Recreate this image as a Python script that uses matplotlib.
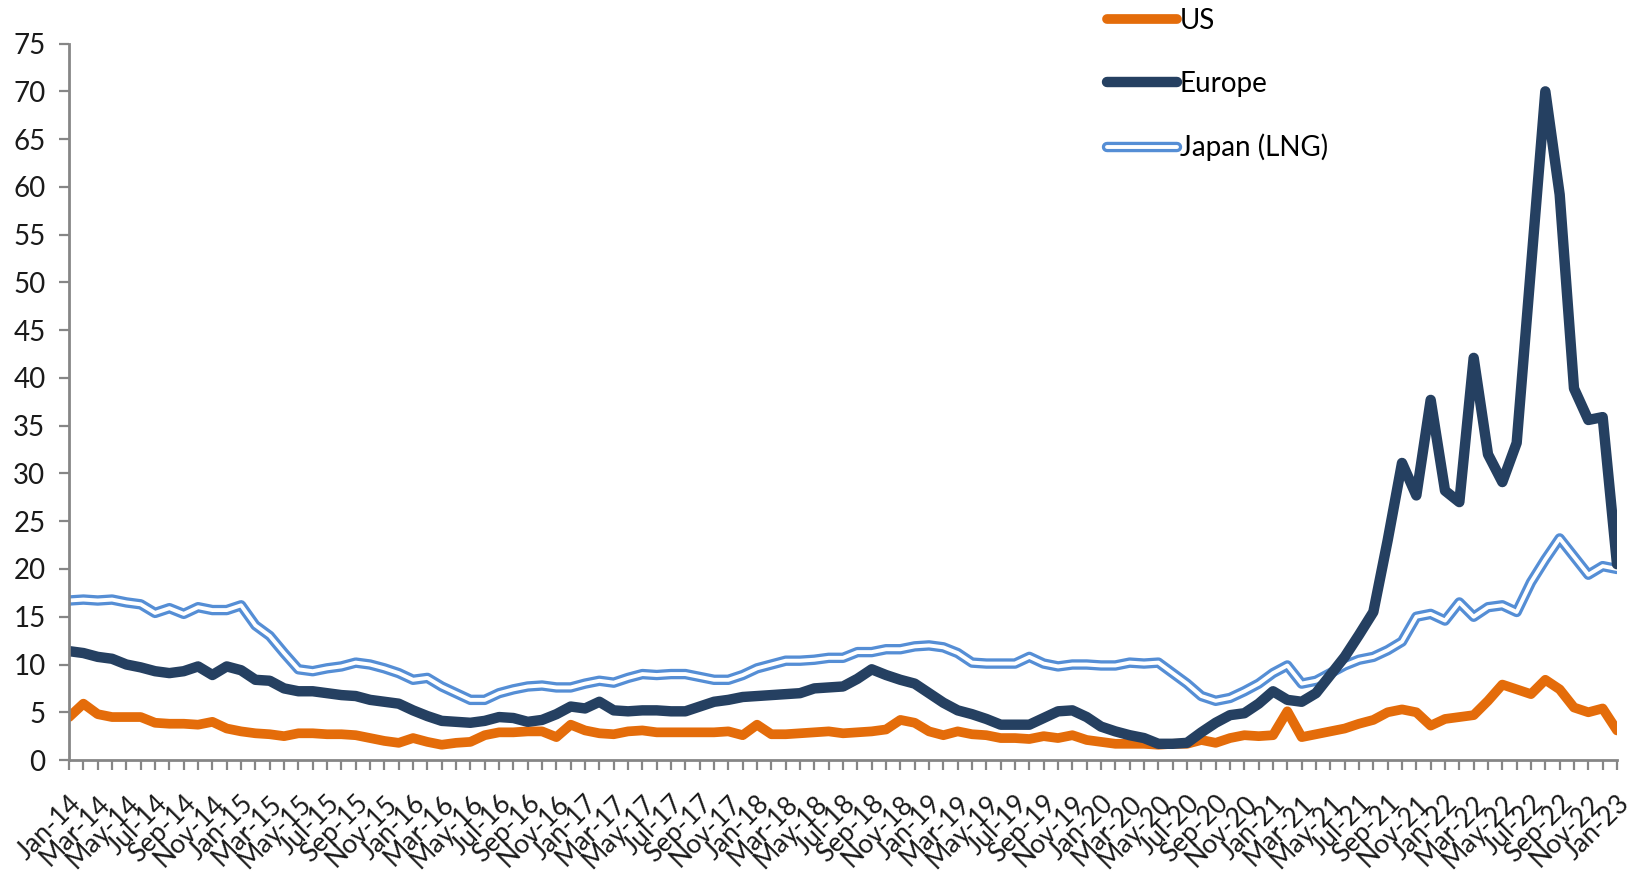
import numpy as np
import pandas as pd
import matplotlib
matplotlib.use("Agg")
import matplotlib.pyplot as plt
from matplotlib.ticker import MultipleLocator, FixedLocator

plt.rcParams['font.family'] = ['Lato', 'DejaVu Sans']

# monthly, Jan-14 .. Jan-23
months = pd.date_range("2014-01-01", periods=109, freq="MS").strftime("%b-%y").tolist()

us = [4.5, 5.9, 4.8, 4.5, 4.5, 4.5, 3.9, 3.8, 3.8, 3.7, 4.0, 3.3, 3.0, 2.8, 2.7, 2.5, 2.8, 2.8, 2.7,
      2.7, 2.6, 2.3, 2.0, 1.8, 2.3, 1.9, 1.6, 1.8, 1.9, 2.6, 2.9, 2.9, 3.0, 3.0, 2.4, 3.7, 3.1,
      2.8, 2.7, 3.0, 3.1, 2.9, 2.9, 2.9, 2.9, 2.9, 3.0, 2.6, 3.7, 2.7, 2.7, 2.8, 2.9, 3.0, 2.8, 2.9,
      3.0, 3.2, 4.2, 3.9, 3.0, 2.6, 3.0, 2.7, 2.6, 2.3, 2.3, 2.2, 2.5, 2.3, 2.6, 2.1, 1.9, 1.7, 1.7,
      1.7, 1.6, 1.7, 1.7, 2.1, 1.8, 2.3, 2.6, 2.5, 2.6, 5.1, 2.4, 2.7, 3.0, 3.3, 3.8, 4.2, 5.0,
      5.3, 5.0, 3.6, 4.3, 4.5, 4.7, 6.2, 7.9, 7.4, 6.9, 8.4, 7.4, 5.5, 5.0, 5.4, 3.1]

europe = [11.4, 11.2, 10.8, 10.6, 10.0, 9.7, 9.3, 9.1, 9.3, 9.8, 8.9, 9.8, 9.4, 8.4, 8.3, 7.5, 7.2, 7.2, 7.0,
          6.8, 6.7, 6.3, 6.1, 5.9, 5.2, 4.6, 4.1, 4.0, 3.9, 4.1, 4.5, 4.4, 4.0, 4.2, 4.8, 5.6, 5.4,
          6.1, 5.2, 5.1, 5.2, 5.2, 5.1, 5.1, 5.6, 6.1, 6.3, 6.6, 6.7, 6.8, 6.9, 7.0, 7.5, 7.6, 7.7, 8.5,
          9.5, 8.9, 8.4, 8.0, 7.0, 6.0, 5.2, 4.8, 4.3, 3.7, 3.7, 3.7, 4.4, 5.1, 5.2, 4.5, 3.5, 3.0, 2.6,
          2.3, 1.7, 1.7, 1.8, 2.9, 3.9, 4.7, 4.9, 5.9, 7.2, 6.3, 6.1, 7.0, 8.9, 10.8, 13.1, 15.5, 23.0,
          31.1, 27.7, 37.7, 28.2, 27.0, 42.1, 32.0, 29.1, 33.2, 51.6, 70.0, 59.2, 38.9, 35.6, 35.9, 20.5]

japan = [16.7, 16.8, 16.7, 16.8, 16.5, 16.3, 15.4, 15.9, 15.3, 16.0, 15.7, 15.7, 16.2, 14.1, 13.0, 11.2, 9.5, 9.3, 9.6,
         9.8, 10.2, 10.0, 9.6, 9.1, 8.4, 8.6, 7.7, 7.0, 6.3, 6.3, 7.0, 7.4, 7.7, 7.8, 7.6, 7.6, 8.0,
         8.3, 8.1, 8.6, 9.0, 8.9, 9.0, 9.0, 8.7, 8.4, 8.4, 8.9, 9.6, 10.0, 10.4, 10.4, 10.5, 10.7, 10.7, 11.3,
         11.3, 11.6, 11.6, 11.9, 12.0, 11.8, 11.2, 10.2, 10.1, 10.1, 10.1, 10.8, 10.1, 9.8, 10.0, 10.0, 9.9, 9.9, 10.2,
         10.1, 10.2, 9.1, 8.0, 6.7, 6.2, 6.5, 7.2, 8.0, 9.1, 9.9, 8.0, 8.3, 9.1, 9.9, 10.5, 10.8, 11.5,
         12.4, 15.0, 15.3, 14.6, 16.5, 15.0, 16.0, 16.2, 15.5, 18.6, 21.0, 23.2, 21.3, 19.4, 20.3, 20.0]

ORANGE = "#E46C0A"
NAVY = "#254061"
LBLUE = "#558ED5"
GREY = "#868686"

x = np.arange(len(months))

fig = plt.figure(figsize=(16.33, 8.72), dpi=100, facecolor="white")
ax = fig.add_axes([0.0423, 0.1284, 0.9479, 0.8216])

kw = dict(solid_capstyle="round", solid_joinstyle="round")
l_us, = ax.plot(x, us, color=ORANGE, linewidth=7, **kw)
l_jp1, = ax.plot(x, japan, color=LBLUE, linewidth=7.5, **kw)
l_jp2, = ax.plot(x, japan, color="white", linewidth=2.8, **kw)
l_eu, = ax.plot(x, europe, color=NAVY, linewidth=7.5, **kw)

ax.set_xlim(0, len(months) - 1)
ax.set_ylim(0, 75)
ax.yaxis.set_major_locator(MultipleLocator(5))

ax.xaxis.set_major_locator(FixedLocator(x[::2]))
ax.xaxis.set_minor_locator(FixedLocator(x))
ax.set_xticklabels(months[::2], rotation=45, ha="right", va="top",
                   rotation_mode="anchor", fontsize=19, color="#1a1a1a")

for s in ["top", "right"]:
    ax.spines[s].set_visible(False)
for s in ["left", "bottom"]:
    ax.spines[s].set_color(GREY)
    ax.spines[s].set_linewidth(2)

ax.tick_params(axis="y", direction="out", length=7, width=1.6, color=GREY,
               labelsize=20, labelcolor="#1a1a1a", pad=10)
ax.tick_params(axis="x", which="both", direction="out", length=7, width=1.6,
               color=GREY, pad=15)

fig.legend([l_us, l_eu, (l_jp1, l_jp2)], ["US", "Europe", "Japan (LNG)"],
           loc="upper left", bbox_to_anchor=(0.678, 0.991), frameon=False,
           fontsize=20, handlelength=2.52, handletextpad=0.1, labelspacing=1.33,
           borderpad=0, borderaxespad=0)

fig.savefig("out.png", dpi=100, facecolor="white")
